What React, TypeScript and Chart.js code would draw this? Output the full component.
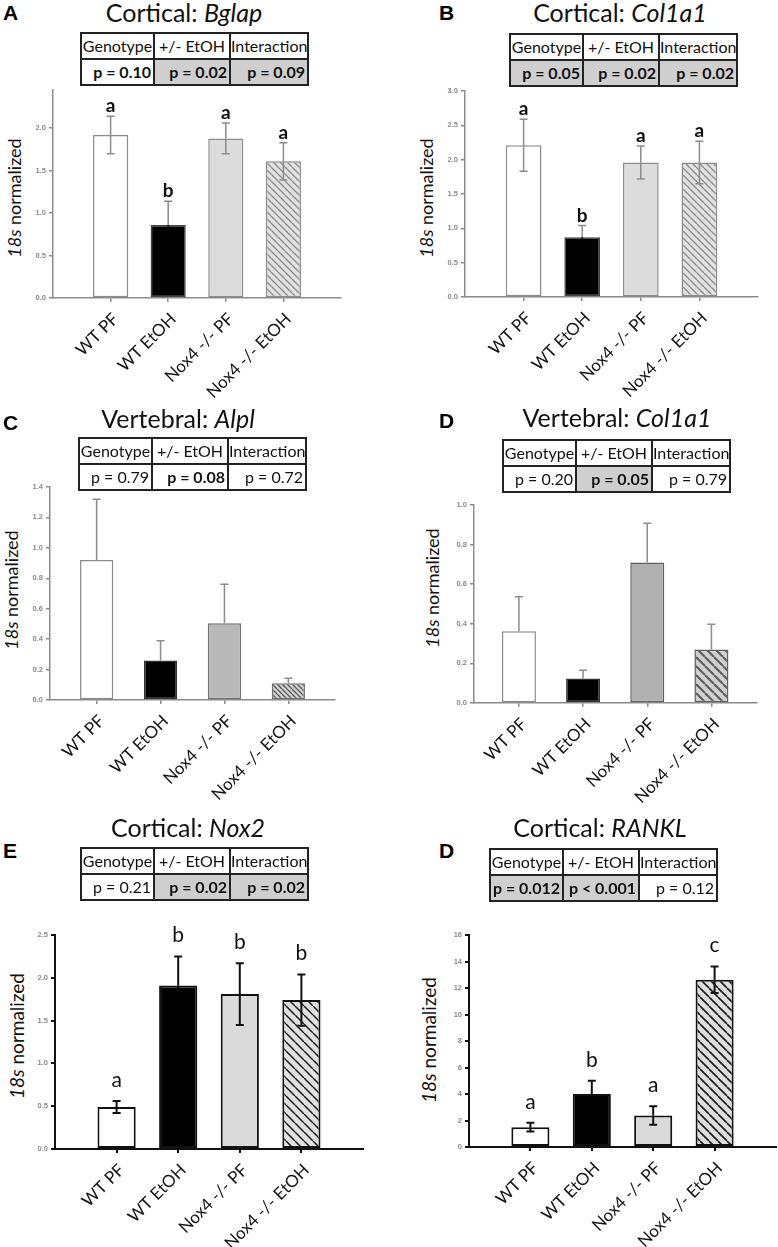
import React, { useEffect, useRef } from "react";
import { Chart, registerables } from "chart.js";
Chart.register(...registerables);

// ---------------- data ----------------
const categories = ["WT PF", "WT EtOH", "Nox4 -/- PF", "Nox4 -/- EtOH"];
const tableHeaders = ["Genotype", "+/- EtOH", "Interaction"];

// A – Cortical: Bglap
const bglapValues = [1.92, 0.86, 1.88, 1.61];
const bglapErrors = [0.22, 0.28, 0.18, 0.22];
const bglapLetters = ["a", "b", "a", "a"];
const bglapTicks = [0, 0.5, 1.0, 1.5, 2.0];
const bglapPValues = ["p = 0.10", "p = 0.02", "p = 0.09"];
const bglapShaded = [false, true, true];
const bglapBold = [true, true, true];

// B – Cortical: Col1a1
const cortCol1a1Values = [2.21, 0.87, 1.96, 1.96];
const cortCol1a1Errors = [0.38, 0.17, 0.24, 0.31];
const cortCol1a1Letters = ["a", "b", "a", "a"];
const cortCol1a1Ticks = [0, 0.5, 1.0, 1.5, 2.0, 2.5, 3.0];
const cortCol1a1PValues = ["p = 0.05", "p = 0.02", "p = 0.02"];
const cortCol1a1Shaded = [true, true, true];
const cortCol1a1Bold = [true, true, true];

// C – Vertebral: Alpl
const alplValues = [0.92, 0.26, 0.505, 0.11];
const alplErrors = [0.4, 0.13, 0.255, 0.033];
const alplLetters: string[] = [];
const alplTicks = [0, 0.2, 0.4, 0.6, 0.8, 1.0, 1.2, 1.4];
const alplPValues = ["p = 0.79", "p = 0.08", "p = 0.72"];
const alplShaded = [false, false, false];
const alplBold = [false, true, false];

// D – Vertebral: Col1a1
const vertCol1a1Values = [0.363, 0.124, 0.709, 0.27];
const vertCol1a1Errors = [0.174, 0.042, 0.199, 0.128];
const vertCol1a1Letters: string[] = [];
const vertCol1a1Ticks = [0, 0.2, 0.4, 0.6, 0.8, 1.0];
const vertCol1a1PValues = ["p = 0.20", "p = 0.05", "p = 0.79"];
const vertCol1a1Shaded = [false, true, false];
const vertCol1a1Bold = [false, true, false];

// E – Cortical: Nox2
const nox2Values = [0.49, 1.91, 1.81, 1.74];
const nox2Errors = [0.07, 0.34, 0.36, 0.3];
const nox2Letters = ["a", "b", "b", "b"];
const nox2Ticks = [0, 0.5, 1.0, 1.5, 2.0, 2.5];
const nox2PValues = ["p = 0.21", "p = 0.02", "p = 0.02"];
const nox2Shaded = [false, true, true];
const nox2Bold = [false, true, true];

// D (bottom) – Cortical: RANKL
const ranklValues = [1.5, 4.0, 2.38, 12.63];
const ranklErrors = [0.33, 1.0, 0.7, 1.0];
const ranklLetters = ["a", "b", "a", "c"];
const ranklTicks = [0, 2, 4, 6, 8, 10, 12, 14, 16];
const ranklPValues = ["p = 0.012", "p < 0.001", "p = 0.12"];
const ranklShaded = [true, true, false];
const ranklBold = [true, true, false];

// ---------------- styles ----------------
type Hatch = { bg: string; line: string; spacing: number; width: number };

const styleLight = {
  fills: ["#ffffff", "#000000", "#dcdcdc", { bg: "#e2e2e2", line: "#8a8a8a", spacing: 7, width: 1.3 }],
  borders: ["#8c8c8c", "#444444", "#8c8c8c", "#8c8c8c"],
  borderWidth: 1.5, errColor: "#8c8c8c", errWidth: 1.5, axisColor: "#8c8c8c", axisWidth: 1.5,
  letterFont: "bold 19px Lato", letterGap: 4, upperOnly: false,
};
const styleAlpl = {
  ...styleLight,
  fills: ["#ffffff", "#000000", "#b8b8b8", { bg: "#d4d4d4", line: "#555555", spacing: 5, width: 1.3 }],
  borders: ["#8c8c8c", "#333333", "#707070", "#707070"],
  upperOnly: true,
};
const styleVert = {
  ...styleLight,
  fills: ["#ffffff", "#000000", "#b0b0b0", { bg: "#d0d0d0", line: "#5a5a5a", spacing: 9, width: 2 }],
  borders: ["#8c8c8c", "#333333", "#606060", "#606060"],
  upperOnly: true,
};
const styleDark = {
  fills: ["#ffffff", "#000000", "#dadada", { bg: "#e0e0e0", line: "#1a1a1a", spacing: 9, width: 1.5 }],
  borders: ["#111111", "#111111", "#111111", "#111111"],
  borderWidth: 2, errColor: "#111111", errWidth: 2, axisColor: "#111111", axisWidth: 2,
  letterFont: "21px Lato", letterGap: 14, upperOnly: false,
};

const panels = [
  {
    tag: "A", region: "Cortical: ", gene: "Bglap",
    values: bglapValues, errors: bglapErrors, letters: bglapLetters, ticks: bglapTicks, decimals: 1, yMax: 2.45,
    pValues: bglapPValues, shaded: bglapShaded, bold: bglapBold, style: styleLight,
    L: { plotLeft: 53, plotTop: 90, plotRight: 341, plotBottom: 298, xMin: 0, xMax: 5, barPct: 0.61,
      titleCx: 184, titleBase: 22, tagX: 3, tagY: 2, tableX: 80, tableY: 32, yTitleCx: 14, yTitleCy: 198, yTitleSize: 18 },
  },
  {
    tag: "B", region: "Cortical: ", gene: "Col1a1",
    values: cortCol1a1Values, errors: cortCol1a1Errors, letters: cortCol1a1Letters, ticks: cortCol1a1Ticks, decimals: 1, yMax: 3.0,
    pValues: cortCol1a1PValues, shaded: cortCol1a1Shaded, bold: cortCol1a1Bold, style: styleLight,
    L: { plotLeft: 465, plotTop: 91, plotRight: 758, plotBottom: 297, xMin: 0, xMax: 5, barPct: 0.61,
      titleCx: 620, titleBase: 22, tagX: 439, tagY: 2, tableX: 509, tableY: 33, yTitleCx: 426, yTitleCy: 198, yTitleSize: 18 },
  },
  {
    tag: "C", region: "Vertebral: ", gene: "Alpl",
    values: alplValues, errors: alplErrors, letters: alplLetters, ticks: alplTicks, decimals: 1, yMax: 1.4,
    pValues: alplPValues, shaded: alplShaded, bold: alplBold, style: styleAlpl,
    L: { plotLeft: 50, plotTop: 487, plotRight: 335, plotBottom: 700, xMin: 0.27, xMax: 4.73, barPct: 0.52,
      titleCx: 178, titleBase: 428, tagX: 3, tagY: 412, tableX: 78, tableY: 437, yTitleCx: 11, yTitleCy: 590, yTitleSize: 18 },
  },
  {
    tag: "D", region: "Vertebral: ", gene: "Col1a1",
    values: vertCol1a1Values, errors: vertCol1a1Errors, letters: vertCol1a1Letters, ticks: vertCol1a1Ticks, decimals: 1, yMax: 1.0,
    pValues: vertCol1a1PValues, shaded: vertCol1a1Shaded, bold: vertCol1a1Bold, style: styleVert,
    L: { plotLeft: 474, plotTop: 505, plotRight: 757, plotBottom: 703, xMin: 0.3, xMax: 4.71, barPct: 0.53,
      titleCx: 617, titleBase: 427, tagX: 439, tagY: 410, tableX: 502, tableY: 439, yTitleCx: 432, yTitleCy: 588, yTitleSize: 18 },
  },
  {
    tag: "E", region: "Cortical: ", gene: "Nox2",
    values: nox2Values, errors: nox2Errors, letters: nox2Letters, ticks: nox2Ticks, decimals: 1, yMax: 2.5,
    pValues: nox2PValues, shaded: nox2Shaded, bold: nox2Bold, style: styleDark,
    L: { plotLeft: 55, plotTop: 935, plotRight: 363, plotBottom: 1149, xMin: 0, xMax: 5, barPct: 0.62,
      titleCx: 188, titleBase: 837, tagX: 3, tagY: 840, tableX: 80, tableY: 847, yTitleCx: 17, yTitleCy: 1036, yTitleSize: 19 },
  },
  {
    tag: "D", region: "Cortical: ", gene: "RANKL",
    values: ranklValues, errors: ranklErrors, letters: ranklLetters, ticks: ranklTicks, decimals: 0, yMax: 16,
    pValues: ranklPValues, shaded: ranklShaded, bold: ranklBold,
    style: { ...styleDark, fills: ["#ffffff", "#000000", "#dadada", { bg: "#dedede", line: "#1a1a1a", spacing: 9, width: 1.6 }] },
    L: { plotLeft: 469, plotTop: 935, plotRight: 776, plotBottom: 1147, xMin: 0, xMax: 5, barPct: 0.62,
      titleCx: 600, titleBase: 837, tagX: 439, tagY: 840, tableX: 489, tableY: 848, yTitleCx: 429, yTitleCy: 1040, yTitleSize: 19 },
  },
];

function makeHatch(h: Hatch): CanvasPattern | string {
  const s = h.spacing;
  const c = document.createElement("canvas");
  c.width = s;
  c.height = s;
  const g = c.getContext("2d");
  if (!g) return h.bg;
  g.fillStyle = h.bg;
  g.fillRect(0, 0, s, s);
  g.strokeStyle = h.line;
  g.lineWidth = h.width;
  g.beginPath();
  for (const k of [-s, 0, s]) {
    g.moveTo(k, 0);
    g.lineTo(k + s, s);
  }
  g.stroke();
  return g.createPattern(c, "repeat") || h.bg;
}

const PAD_L = 48;
const PAD_TOP = 28;
const PAD_BOTTOM = 118;

function BarPanel({ p }: { p: any }) {
  const ref = useRef<HTMLCanvasElement>(null);
  const L = p.L;
  const cLeft = L.plotLeft - PAD_L;
  const cTop = L.plotTop - PAD_TOP;
  const cW = Math.min(L.plotRight + 2, 778) - cLeft;
  const cH = PAD_TOP + (L.plotBottom - L.plotTop) + PAD_BOTTOM;
  const padRight = cW - (L.plotRight - cLeft);

  useEffect(() => {
    const canvas = ref.current;
    if (!canvas) return;
    const s = p.style;
    const fills = s.fills.map((f: any) => (typeof f === "string" ? f : makeHatch(f)));

    const errorPlugin = {
      id: "errorBars",
      afterDatasetsDraw(chart: any) {
        const meta = chart.getDatasetMeta(0);
        const ys = chart.scales.y;
        const ctx = chart.ctx;
        const cap = 4;
        ctx.save();
        p.values.forEach((v: number, i: number) => {
          const x = meta.data[i].x;
          const top = ys.getPixelForValue(v + p.errors[i]);
          const mid = ys.getPixelForValue(v);
          const bot = ys.getPixelForValue(v - p.errors[i]);
          ctx.lineWidth = s.errWidth;
          ctx.strokeStyle = s.errColor;
          ctx.beginPath();
          ctx.moveTo(x, top);
          ctx.lineTo(x, mid);
          ctx.moveTo(x - cap, top);
          ctx.lineTo(x + cap, top);
          ctx.stroke();
          if (!s.upperOnly) {
            ctx.strokeStyle = s.fills[i] === "#000000" ? "#000000" : s.errColor;
            ctx.beginPath();
            ctx.moveTo(x, mid);
            ctx.lineTo(x, bot);
            ctx.moveTo(x - cap, bot);
            ctx.lineTo(x + cap, bot);
            ctx.stroke();
          }
          const letter = p.letters[i];
          if (letter) {
            ctx.fillStyle = "#111111";
            ctx.font = s.letterFont;
            ctx.textAlign = "center";
            ctx.textBaseline = "alphabetic";
            ctx.fillText(letter, x, top - s.letterGap);
          }
        });
        ctx.restore();
      },
    };

    const axisGrid = {
      display: true,
      drawOnChartArea: false,
      drawTicks: true,
      tickLength: 4,
      offset: false,
      color: s.axisColor,
      lineWidth: s.axisWidth,
    };
    const axisBorder = { display: true, color: s.axisColor, width: s.axisWidth };

    const chart = new Chart(canvas, {
      type: "bar",
      data: {
        datasets: [
          {
            data: p.values.map((v: number, i: number) => ({ x: i + 1, y: v })),
            backgroundColor: fills,
            borderColor: s.borders,
            borderWidth: s.borderWidth,
            borderSkipped: false,
            barPercentage: L.barPct,
            categoryPercentage: 1,
          },
        ],
      },
      options: {
        animation: false,
        responsive: false,
        maintainAspectRatio: false,
        devicePixelRatio: 1,
        layout: { padding: { top: PAD_TOP, left: 0, right: padRight, bottom: 0 } },
        plugins: { legend: { display: false }, tooltip: { enabled: false }, title: { display: false } },
        scales: {
          x: {
            type: "linear",
            min: L.xMin,
            max: L.xMax,
            offset: false,
            afterBuildTicks: (sc: any) => {
              sc.ticks = categories.map((_, i) => ({ value: i + 1 }));
            },
            afterFit: (sc: any) => {
              sc.height = PAD_BOTTOM;
            },
            grid: axisGrid,
            border: axisBorder,
            ticks: {
              autoSkip: false,
              minRotation: 45,
              maxRotation: 45,
              padding: 7,
              labelOffset: 5,
              color: "#151515",
              font: { family: "Lato", size: 17 },
              callback: (v: any) => categories[Math.round(Number(v)) - 1] ?? "",
            },
          },
          y: {
            type: "linear",
            min: 0,
            max: p.yMax,
            afterBuildTicks: (sc: any) => {
              sc.ticks = p.ticks.map((v: number) => ({ value: v }));
            },
            afterFit: (sc: any) => {
              sc.width = PAD_L;
            },
            grid: axisGrid,
            border: axisBorder,
            ticks: {
              padding: 3,
              color: "#8a8a8a",
              font: { family: "Liberation Sans", size: 7.5, weight: "bold" },
              callback: (v: any) => Number(v).toFixed(p.decimals),
            },
          },
        },
      } as any,
      plugins: [errorPlugin],
    } as any);
    return () => chart.destroy();
  }, []);

  return (
    <canvas
      ref={ref}
      width={cW}
      height={cH}
      style={{ position: "absolute", left: cLeft, top: cTop, width: cW, height: cH }}
    />
  );
}

function StatsTable({ p }: { p: any }) {
  const colW = [73, 76, 78];
  const cell: any = {
    border: "2px solid #222",
    padding: 0,
    height: 24,
    whiteSpace: "nowrap",
    overflow: "hidden",
    lineHeight: "24px",
    boxSizing: "border-box",
  };
  return (
    <table
      style={{
        position: "absolute",
        left: p.L.tableX,
        top: p.L.tableY,
        width: colW[0] + colW[1] + colW[2],
        borderCollapse: "collapse",
        tableLayout: "fixed",
        fontFamily: "Lato",
        fontSize: 16,
        color: "#111",
      }}
    >
      <colgroup>
        {colW.map((w, i) => (
          <col key={i} style={{ width: w }} />
        ))}
      </colgroup>
      <tbody>
        <tr>
          {tableHeaders.map((h) => (
            <td key={h} style={{ ...cell, textAlign: "center", background: "#fff" }}>
              {h}
            </td>
          ))}
        </tr>
        <tr>
          {p.pValues.map((t: string, i: number) => (
            <td
              key={i}
              style={{
                ...cell,
                textAlign: "right",
                paddingRight: 2,
                background: p.shaded[i] ? "#cfcfcf" : "#fff",
                fontWeight: p.bold[i] ? 700 : 400,
              }}
            >
              {t}
            </td>
          ))}
        </tr>
      </tbody>
    </table>
  );
}

function Panel({ p }: { p: any }) {
  const L = p.L;
  return (
    <>
      <div
        style={{
          position: "absolute",
          left: L.tagX,
          top: L.tagY,
          fontFamily: "Liberation Sans",
          fontWeight: 700,
          fontSize: 21,
          lineHeight: "21px",
          color: "#000",
        }}
      >
        {p.tag}
      </div>
      <div
        style={{
          position: "absolute",
          left: L.titleCx - 160,
          width: 320,
          top: L.titleBase - 22,
          fontFamily: "Lato",
          fontSize: 25,
          lineHeight: "25px",
          textAlign: "center",
          color: "#111",
          whiteSpace: "nowrap",
        }}
      >
        {p.region}
        <i>{p.gene}</i>
      </div>
      <StatsTable p={p} />
      <div
        style={{
          position: "absolute",
          left: L.yTitleCx - 80,
          top: L.yTitleCy - 10,
          width: 160,
          height: 20,
          lineHeight: "20px",
          transform: "rotate(-90deg)",
          textAlign: "center",
          fontFamily: "Lato",
          fontSize: L.yTitleSize,
          color: "#111",
          whiteSpace: "nowrap",
        }}
      >
        <i>18s</i> normalized
      </div>
      <BarPanel p={p} />
    </>
  );
}

export default function App() {
  return (
    <div
      style={{
        position: "absolute",
        left: 0,
        top: 0,
        width: 778,
        height: 1247,
        background: "#ffffff",
        overflow: "hidden",
      }}
    >
      {panels.map((p, i) => (
        <Panel key={i} p={p} />
      ))}
    </div>
  );
}
